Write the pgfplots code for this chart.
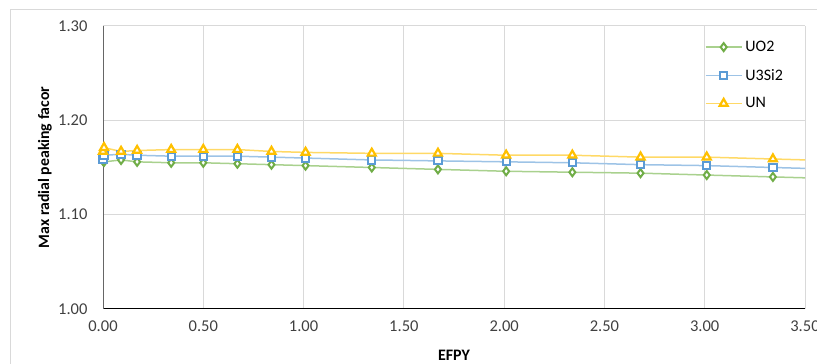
\documentclass[border=0pt]{standalone}
\usepackage{pgfplots}
\pgfplotsset{compat=1.18}
\usepackage{pgfplotstable}
\usepackage{fontspec}
\setmainfont{Carlito}

\definecolor{uoLine}{HTML}{A9D18E}
\definecolor{uoMark}{HTML}{70AD47}
\definecolor{siLine}{HTML}{9DC3E6}
\definecolor{siMark}{HTML}{5B9BD5}
\definecolor{unLine}{HTML}{FFD966}
\definecolor{unMark}{HTML}{FFC000}
\definecolor{gridgray}{HTML}{D9D9D9}
\definecolor{ticktext}{HTML}{404040}

% Max radial peaking factor vs. EFPY for three fuel types
\pgfplotstableread{
x     uo2   usi   un
0.000 1.157 1.159 1.167
0.005 1.156 1.163 1.171
0.09  1.158 1.164 1.167
0.17  1.156 1.163 1.168
0.34  1.155 1.162 1.169
0.50  1.155 1.162 1.169
0.67  1.154 1.162 1.169
0.84  1.153 1.161 1.167
1.01  1.152 1.160 1.166
1.34  1.150 1.158 1.165
1.67  1.148 1.157 1.165
2.01  1.146 1.156 1.163
2.34  1.145 1.155 1.163
2.68  1.144 1.153 1.161
3.01  1.142 1.152 1.161
3.34  1.140 1.150 1.159
3.68  1.138 1.148 1.157
}\peaking

\begin{document}
\begin{tikzpicture}[font=\fontsize{16}{19}\selectfont]
% chart frame
\draw[gridgray, line width=1pt] (10pt,-20pt) rectangle (840pt,354pt);
\begin{axis}[
  at={(103pt,55pt)}, anchor=south west,
  scale only axis, width=702pt, height=283pt,
  xmin=0, xmax=3.5, ymin=1, ymax=1.3,
  xtick={0,0.5,...,3.5}, ytick={1.0,1.1,1.2,1.3},
  axis x line*=bottom, axis y line*=left,
  x axis line style={black, line width=1pt, -},
  y axis line style={gray!80!black, line width=1pt, -},
  tick style={draw=none},
  grid=major, grid style={gridgray, line width=1pt},
  ticklabel style={text=ticktext, font=\fontsize{16.5}{19}\selectfont},
  /pgf/number format/assume math mode=true,
  /pgf/number format/.cd, fixed, fixed zerofill, precision=2, /tikz/.cd,
  xticklabel style={yshift=-8pt},
  yticklabel style={xshift=-12pt},
  xlabel={\bfseries EFPY},
  ylabel={\bfseries Max radial peaking facor},
  xlabel style={at={(axis description cs:0.5,-0.1625)}, anchor=center, font=\fontsize{16}{19}\selectfont},
  ylabel style={at={(axis description cs:-0.0826,0.5)}, anchor=center, font=\fontsize{15.8}{18}\selectfont},
  legend cell align=left,
  legend style={draw=none, fill=none, inner sep=0pt, row sep=12pt,
    at={(axis cs:3.0,1.3)}, anchor=north west, yshift=-13pt,
    font=\fontsize{16}{19}\selectfont,
    nodes={inner xsep=3pt}},
  legend image code/.code={
    \draw[mark repeat=2, mark phase=2, #1] plot coordinates {(0pt,0pt) (18pt,0pt) (36pt,0pt)};
  },
]
\addplot[uoLine, line width=1.5pt, mark=diamond*, mark size=4pt,
  mark options={draw=uoMark, fill=white, line width=2pt, solid}]
  table[x=x, y=uo2] {\peaking};
\addlegendentry{UO2}
\addplot[siLine, line width=1.5pt, mark=square*, mark size=3.6pt,
  mark options={draw=siMark, fill=white, line width=2pt, solid}]
  table[x=x, y=usi] {\peaking};
\addlegendentry{U3Si2}
\addplot[unLine, line width=1.5pt, mark=triangle*, mark size=4.6pt,
  mark options={draw=unMark, fill=white, line width=2.2pt, solid}]
  table[x=x, y=un] {\peaking};
\addlegendentry{UN}
\end{axis}
\pgfresetboundingbox
\useasboundingbox (0pt,0pt) rectangle (817pt,364pt);
\end{tikzpicture}
\end{document}
